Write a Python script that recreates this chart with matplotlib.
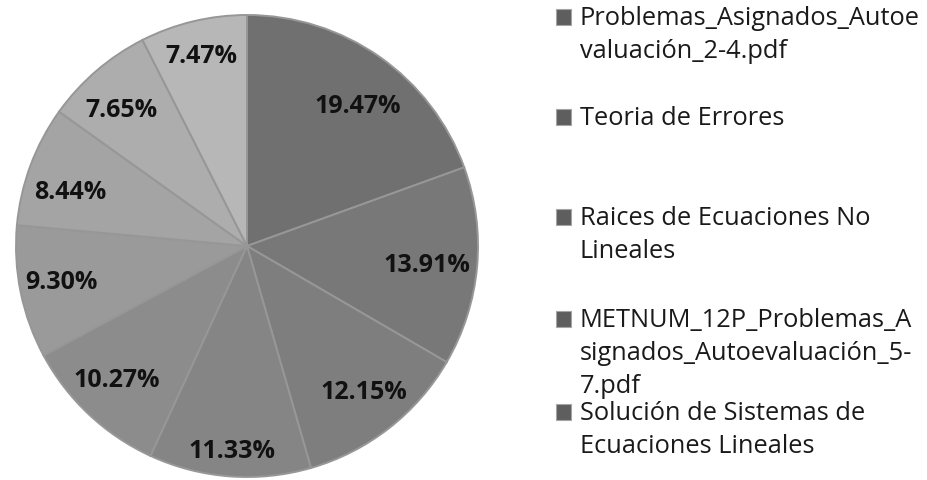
import numpy as np
import matplotlib.pyplot as plt
import matplotlib.patches as patches

plt.rcParams['font.family'] = ['Open Sans', 'DejaVu Sans']

percentages = [19.47, 13.91, 12.15, 11.33, 10.27, 9.30, 8.44, 7.65, 7.47]
slice_colors = ['#707070', '#787878', '#7e7e7e', '#858585', '#8c8c8c',
                '#9a9a9a', '#a4a4a4', '#adadad', '#b7b7b7']
# only the first five legend entries are visible in the original
legend_labels = [
    'Problemas_Asignados_Autoe\nvaluación_2-4.pdf',
    'Teoria de Errores',
    'Raices de Ecuaciones No\nLineales',
    'METNUM_12P_Problemas_A\nsignados_Autoevaluación_5-\n7.pdf',
    'Solución de Sistemas de\nEcuaciones Lineales',
]
legend_baseline_px = [25, 125, 225, 327, 420]  # baseline of first line
line_step_px = 33
# excel "best fit" label placement: radial distance and angle nudge per slice
label_dist = [0.77, 0.785, 0.81, 0.89, 0.81, 0.82, 0.80, 0.80, 0.845]
label_nudge = [-3.3, -0.9, 0.7, 0, -0.9, -0.6, 3.7, 2.1, 0]

fig = plt.figure(figsize=(9.27, 4.8), dpi=100)
cx, cy, r = 247, 246, 231
ax = fig.add_axes([(cx - r) / 927, (480 - cy - r) / 480, 2 * r / 927, 2 * r / 480])

wedges, texts, autotexts = ax.pie(
    percentages,
    colors=slice_colors,
    startangle=90,
    counterclock=False,
    autopct=lambda p: f'{p:.2f}%',
    pctdistance=0.82,
    wedgeprops=dict(edgecolor='#979797', linewidth=1.4),
    textprops=dict(fontsize=18, fontweight='bold', color='#111111'),
)
for w, t, d, n in zip(wedges, autotexts, label_dist, label_nudge):
    a = np.deg2rad((w.theta1 + w.theta2) / 2 + n)
    t.set_position((d * np.cos(a), d * np.sin(a)))

ax.set_xlim(-1, 1)
ax.set_ylim(-1, 1)
ax.set_aspect('equal')
ax.axis('off')

for lab, base in zip(legend_labels, legend_baseline_px):
    fig.patches.append(patches.Rectangle((556 / 927, 1 - base / 480), 15 / 927, 16 / 480,
                                         transform=fig.transFigure, facecolor='#5e5e5e',
                                         edgecolor='#a5a5a5', linewidth=0.8))
    # va='baseline' pins the last line, so shift down by the extra lines
    last = base + lab.count('\n') * line_step_px
    fig.text(580 / 927, 1 - last / 480, lab, ha='left', va='baseline', fontsize=18.3,
             color='#1a1a1a', linespacing=1.41)

fig.savefig('out.png', dpi=100)
